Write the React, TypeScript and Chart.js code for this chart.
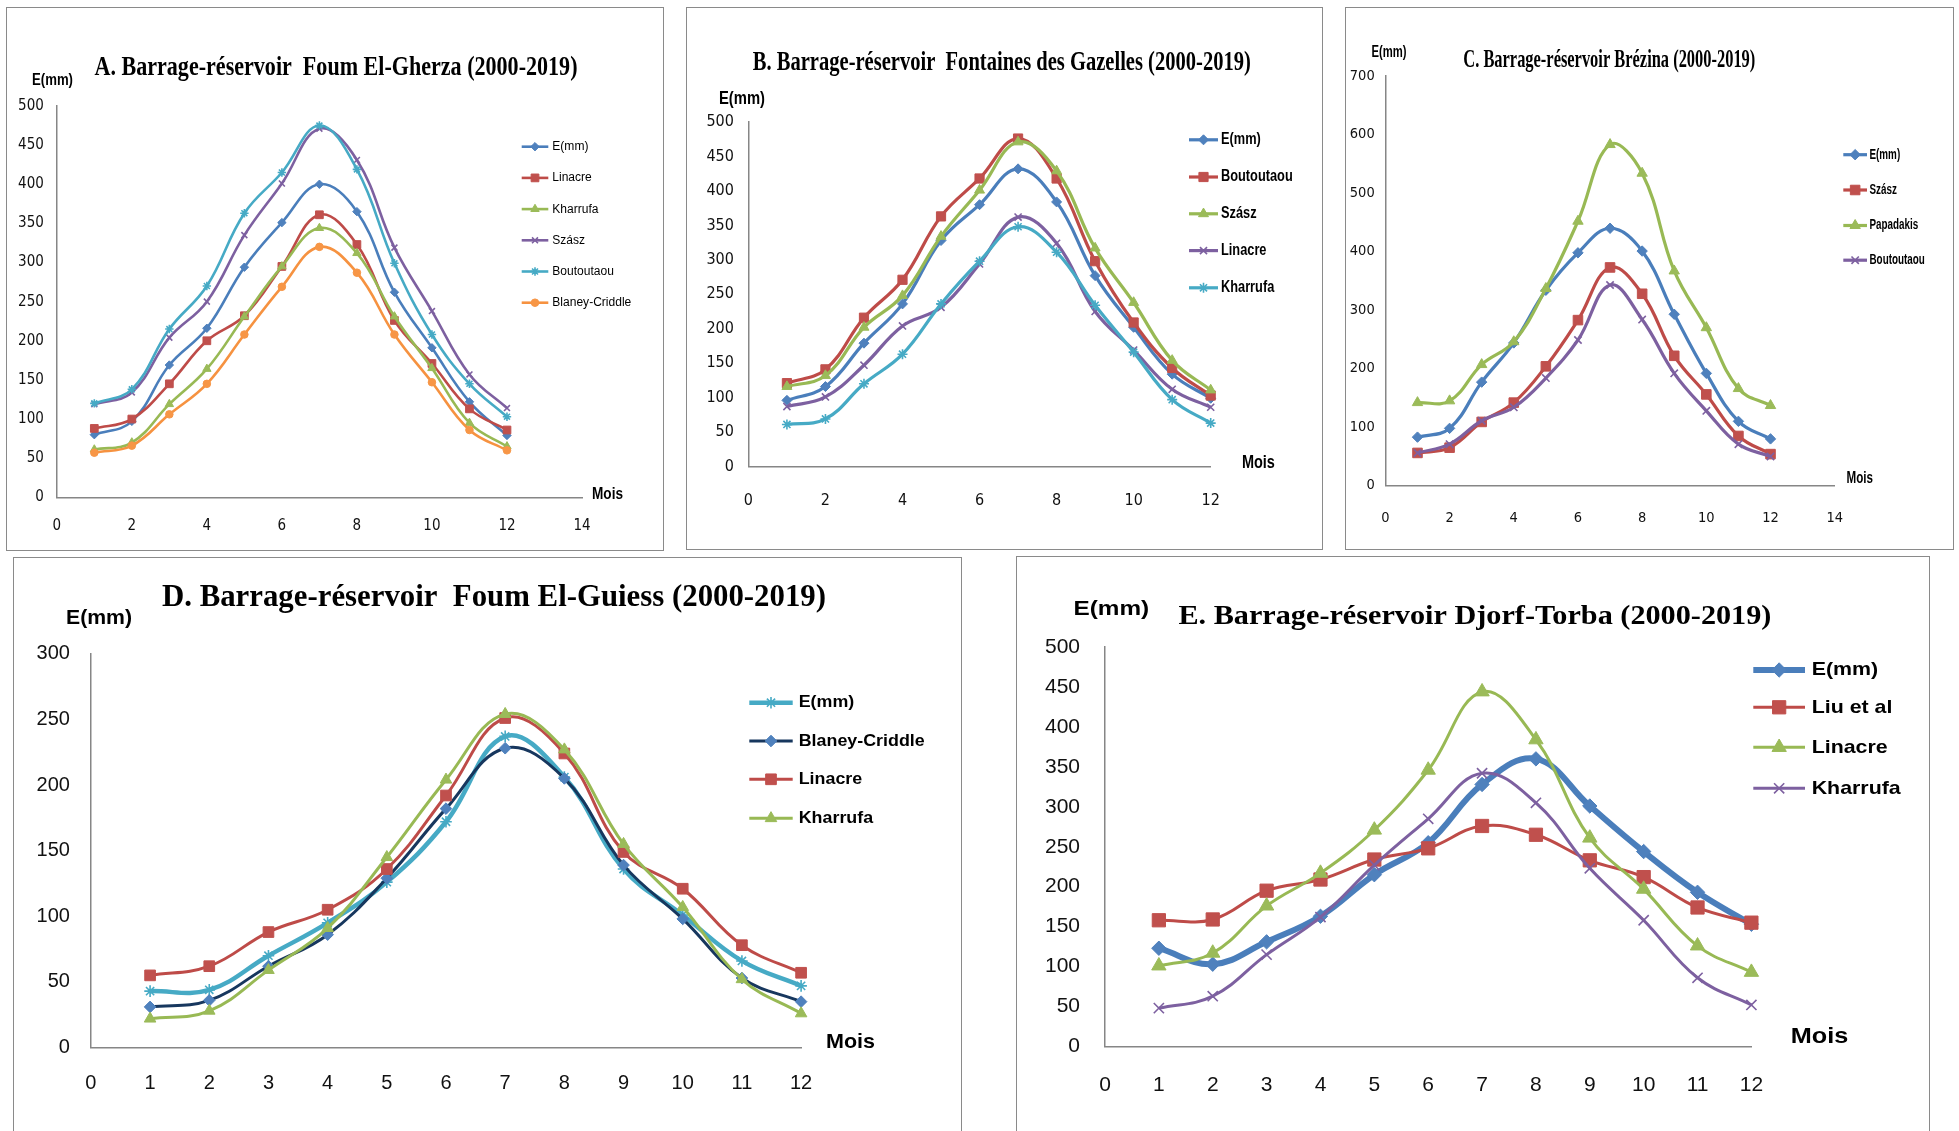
import React, { useEffect, useRef } from "react";
import { Chart, registerables } from "chart.js";
import { drawPoint } from "chart.js/helpers";

Chart.register(...registerables);

// ---------------- DATA ----------------
const months = [1, 2, 3, 4, 5, 6, 7, 8, 9, 10, 11, 12];

// A. Foum El-Gherza
const aEmm = [80, 97, 169, 216, 294, 351, 400, 365, 262, 191, 122, 79];
const aLinacre = [88, 100, 145, 200, 232, 295, 361, 323, 226, 171, 113, 86];
const aKharrufa = [61, 70, 119, 164, 231, 295, 344, 312, 231, 165, 95, 65];
const aSzasz = [119, 134, 204, 250, 335, 401, 471, 431, 319, 238, 157, 114];
const aBoutoutaou = [120, 138, 215, 270, 363, 415, 475, 419, 299, 208, 145, 103];
const aBlaney = [57, 66, 106, 145, 208, 269, 320, 287, 208, 147, 86, 60];

// B. Fontaines des Gazelles
const bEmm = [96, 116, 179, 236, 328, 380, 432, 384, 277, 202, 134, 99];
const bBoutoutaou = [121, 141, 216, 271, 363, 418, 476, 418, 298, 209, 143, 103];
const bSzasz = [116, 132, 202, 248, 334, 401, 471, 429, 317, 238, 154, 111];
const bLinacre = [87, 101, 147, 204, 231, 294, 362, 324, 225, 169, 112, 86];
const bKharrufa = [61, 69, 120, 163, 236, 298, 348, 311, 234, 166, 97, 63];

// C. Brézina
const cEmm = [83, 98, 177, 244, 334, 398, 440, 401, 293, 192, 110, 80];
const cSzasz = [56, 65, 109, 142, 204, 283, 373, 328, 222, 156, 85, 54];
const cPapadakis = [142, 145, 207, 246, 337, 452, 583, 534, 367, 270, 166, 137];
const cBoutoutaou = [56, 71, 111, 134, 184, 249, 343, 284, 192, 128, 71, 50];

// D. Foum El-Guiess
const dEmm = [43, 44, 70, 95, 126, 172, 237, 206, 136, 101, 66, 47];
const dBlaney = [31, 36, 62, 86, 129, 182, 228, 205, 139, 98, 53, 35];
const dLinacre = [55, 62, 88, 105, 136, 192, 251, 224, 149, 121, 78, 57];
const dKharrufa = [22, 28, 59, 91, 145, 204, 254, 227, 155, 107, 52, 26];

// E. Djorf-Torba
const eEmm = [123, 103, 131, 163, 215, 255, 328, 360, 301, 244, 193, 153];
const eLiu = [158, 159, 195, 209, 234, 248, 276, 265, 233, 212, 174, 155];
const eLinacre = [101, 117, 176, 217, 271, 346, 444, 384, 261, 197, 126, 93];
const eKharrufa = [48, 63, 115, 162, 227, 285, 342, 305, 223, 158, 86, 52];

// Axis ranges
const aAxis = { xMax: 14, xStep: 2, yMax: 500, yStep: 50 };
const bAxis = { xMax: 12, xStep: 2, yMax: 500, yStep: 50 };
const cAxis = { xMax: 14, xStep: 2, yMax: 700, yStep: 100 };
const dAxis = { xMax: 12, xStep: 1, yMax: 300, yStep: 50 };
const eAxis = { xMax: 12, xStep: 1, yMax: 500, yStep: 50 };

const titleA = "A. Barrage-réservoir  Foum El-Gherza (2000-2019)";
const titleB = "B. Barrage-réservoir  Fontaines des Gazelles (2000-2019)";
const titleC = "C. Barrage-réservoir Brézina (2000-2019)";
const titleD = "D. Barrage-réservoir  Foum El-Guiess (2000-2019)";
const titleE = "E. Barrage-réservoir Djorf-Torba (2000-2019)";
const yAxisLabel = "E(mm)";
const xAxisLabel = "Mois";

// ---------------- STYLES ----------------
const COL = {
  blue: "#4A7EBB", blueM: "#4F81BD",
  red: "#BE4B48", redM: "#C0504D",
  green: "#98B954", greenM: "#9BBB59",
  purple: "#7D60A0", purpleM: "#8064A2",
  cyan: "#46AAC5", cyanM: "#4BACC6",
  orange: "#F69240", orangeM: "#F79646",
  navy: "#17375E",
};

const NARROW = '"Liberation Sans Narrow", "DejaVu Sans Condensed", "Liberation Sans", Arial, sans-serif';
const SANS = '"Liberation Sans", Arial, sans-serif';
const SERIF = '"Liberation Serif", "Times New Roman", serif';

type PStyle = "rect" | "rectRot" | "triangle" | "crossRot" | "star" | "circle";
const styleScale: Record<PStyle, number> = { rect: 1.3, rectRot: 1.0, triangle: 1.15, crossRot: 1.0, star: 1.0, circle: 0.9 };

interface SeriesSpec { label: string; data: number[]; color: string; marker: string; style: PStyle; width?: number; }
interface TextSpec { cx: number; cy: number; w: number; size: number; }
interface PanelSpec {
  x: number; y: number; w: number; h: number;
  area: { l: number; t: number; r: number; b: number };
  axis: { xMax: number; xStep: number; yMax: number; yStep: number };
  tickFamily: string; tickSize: number; xPad: number; yPad: number;
  title: string; titleSpec: TextSpec; yLab: TextSpec; mois: TextSpec;
  legend: { x1: number; x2: number; tx: number; ys: number[]; size: number; bold: boolean; ref: string; refW: number };
  lineWidth: number; markerBase: number;
  series: SeriesSpec[];
}

const panels: PanelSpec[] = [
  {
    x: 6, y: 7, w: 658, h: 544,
    area: { l: 50.8, t: 99, r: 576, b: 490.3 },
    axis: aAxis, tickFamily: NARROW, tickSize: 15, xPad: 19.5, yPad: 13,
    title: titleA, titleSpec: { cx: 330, cy: 61, w: 483, size: 27 },
    yLab: { cx: 46.5, cy: 74, w: 41, size: 16 },
    mois: { cx: 601.5, cy: 487.5, w: 31, size: 17 },
    legend: { x1: 515.7, x2: 542.3, tx: 546.3, ys: [139.7, 170.9, 202.1, 233.3, 264.5, 295.7], size: 12.5, bold: false, ref: "Blaney-Criddle", refW: 79 },
    lineWidth: 2.6, markerBase: 4.2,
    series: [
      { label: "E(mm)", data: aEmm, color: COL.blue, marker: COL.blueM, style: "rectRot" },
      { label: "Linacre", data: aLinacre, color: COL.red, marker: COL.redM, style: "rect" },
      { label: "Kharrufa", data: aKharrufa, color: COL.green, marker: COL.greenM, style: "triangle" },
      { label: "Szász", data: aSzasz, color: COL.purple, marker: COL.purpleM, style: "crossRot" },
      { label: "Boutoutaou", data: aBoutoutaou, color: COL.cyan, marker: COL.cyanM, style: "star" },
      { label: "Blaney-Criddle", data: aBlaney, color: COL.orange, marker: COL.orangeM, style: "circle" },
    ],
  },
  {
    x: 686, y: 7, w: 637, h: 543,
    area: { l: 62.4, t: 115, r: 524.7, b: 459.5 },
    axis: bAxis, tickFamily: NARROW, tickSize: 16, xPad: 25, yPad: 14.5,
    title: titleB, titleSpec: { cx: 315.8, cy: 56, w: 498, size: 27 },
    yLab: { cx: 56, cy: 91.4, w: 46, size: 19 },
    mois: { cx: 572.4, cy: 456, w: 33, size: 19 },
    legend: { x1: 503, x2: 532, tx: 535, ys: [132.8, 170, 206.8, 243.6, 280.8], size: 16, bold: true, ref: "Boutoutaou", refW: 71.7 },
    lineWidth: 3.2, markerBase: 5,
    series: [
      { label: "E(mm)", data: bEmm, color: COL.blue, marker: COL.blueM, style: "rectRot" },
      { label: "Boutoutaou", data: bBoutoutaou, color: COL.red, marker: COL.redM, style: "rect" },
      { label: "Szász", data: bSzasz, color: COL.green, marker: COL.greenM, style: "triangle" },
      { label: "Linacre", data: bLinacre, color: COL.purple, marker: COL.purpleM, style: "crossRot" },
      { label: "Kharrufa", data: bKharrufa, color: COL.cyan, marker: COL.cyanM, style: "star" },
    ],
  },
  {
    x: 1345, y: 7, w: 609, h: 543,
    area: { l: 40.4, t: 69.1, r: 489.7, b: 478.7 },
    axis: cAxis, tickFamily: NARROW, tickSize: 14.5, xPad: 24, yPad: 10.7,
    title: titleC, titleSpec: { cx: 264.3, cy: 54, w: 292, size: 25 },
    yLab: { cx: 44, cy: 45.4, w: 35, size: 17 },
    mois: { cx: 514.8, cy: 471.6, w: 26.5, size: 17 },
    legend: { x1: 498.3, x2: 522, tx: 524.5, ys: [147.7, 183, 218.5, 253.2], size: 14, bold: true, ref: "Boutoutaou", refW: 55.3 },
    lineWidth: 3.2, markerBase: 5.2,
    series: [
      { label: "E(mm)", data: cEmm, color: COL.blue, marker: COL.blueM, style: "rectRot" },
      { label: "Szász", data: cSzasz, color: COL.red, marker: COL.redM, style: "rect" },
      { label: "Papadakis", data: cPapadakis, color: COL.green, marker: COL.greenM, style: "triangle" },
      { label: "Boutoutaou", data: cBoutoutaou, color: COL.purple, marker: COL.purpleM, style: "crossRot" },
    ],
  },
  {
    x: 13, y: 557, w: 949, h: 600,
    area: { l: 77.9, t: 96.7, r: 788.1, b: 490.6 },
    axis: dAxis, tickFamily: SANS, tickSize: 20, xPad: 24, yPad: 21,
    title: titleD, titleSpec: { cx: 481, cy: 40.5, w: 664, size: 31 },
    yLab: { cx: 86, cy: 61.5, w: 66, size: 20 },
    mois: { cx: 837.5, cy: 485, w: 49, size: 21 },
    legend: { x1: 736.3, x2: 779.7, tx: 785.7, ys: [145.7, 184, 222.3, 261.3], size: 17, bold: true, ref: "Blaney-Criddle", refW: 126 },
    lineWidth: 3, markerBase: 5.8,
    series: [
      { label: "E(mm)", data: dEmm, color: COL.cyan, marker: COL.cyanM, style: "star", width: 4.5 },
      { label: "Blaney-Criddle", data: dBlaney, color: COL.navy, marker: COL.blueM, style: "rectRot" },
      { label: "Linacre", data: dLinacre, color: COL.red, marker: COL.redM, style: "rect" },
      { label: "Kharrufa", data: dKharrufa, color: COL.green, marker: COL.greenM, style: "triangle" },
    ],
  },
  {
    x: 1016, y: 556, w: 914, h: 600,
    area: { l: 89, t: 91, r: 735.4, b: 490.5 },
    axis: eAxis, tickFamily: SANS, tickSize: 21, xPad: 26, yPad: 25,
    title: titleE, titleSpec: { cx: 458.9, cy: 61, w: 593, size: 28 },
    yLab: { cx: 95.3, cy: 53.3, w: 75.7, size: 21 },
    mois: { cx: 803.5, cy: 481.2, w: 57.5, size: 22 },
    legend: { x1: 737.3, x2: 789, tx: 795.7, ys: [114, 151.3, 191.3, 232.3], size: 19, bold: true, ref: "Kharrufa", refW: 89 },
    lineWidth: 3, markerBase: 7.2,
    series: [
      { label: "E(mm)", data: eEmm, color: COL.blue, marker: COL.blueM, style: "rectRot", width: 6 },
      { label: "Liu et al", data: eLiu, color: COL.red, marker: COL.redM, style: "rect" },
      { label: "Linacre", data: eLinacre, color: COL.green, marker: COL.greenM, style: "triangle" },
      { label: "Kharrufa", data: eKharrufa, color: COL.purple, marker: COL.purpleM, style: "crossRot" },
    ],
  },
];

function isCross(s: PStyle) { return s === "crossRot" || s === "star"; }

function drawFit(ctx: CanvasRenderingContext2D, text: string, t: TextSpec, font: string) {
  ctx.save();
  ctx.font = font;
  ctx.fillStyle = "#000";
  ctx.textAlign = "center";
  ctx.textBaseline = "middle";
  const m = ctx.measureText(text).width || 1;
  ctx.translate(t.cx, t.cy);
  ctx.scale(t.w / m, 1);
  ctx.fillText(text, 0, 0);
  ctx.restore();
}

function Panel({ p }: { p: PanelSpec }) {
  const ref = useRef<HTMLCanvasElement>(null);
  useEffect(() => {
    const canvas = ref.current!;
    const n = p.series.length;
    const datasets = p.series.map((s, i) => {
      const r = p.markerBase * styleScale[s.style];
      return {
        label: s.label,
        data: months.map((m, k) => ({ x: m, y: s.data[k] })),
        borderColor: s.color,
        backgroundColor: s.marker,
        borderWidth: s.width ?? p.lineWidth,
        pointStyle: s.style,
        pointRadius: r,
        pointBorderColor: isCross(s.style) ? s.color : s.marker,
        pointBackgroundColor: s.marker,
        pointBorderWidth: isCross(s.style) ? 1.6 : 1,
        tension: 0.4,
        clip: false as any,
        order: n - 1 - i,
      };
    });

    const annot = {
      id: "annot",
      beforeDraw(chart: any) {
        const ctx = chart.ctx as CanvasRenderingContext2D;
        ctx.save();
        ctx.fillStyle = "#fff";
        ctx.fillRect(0, 0, p.w, p.h);
        ctx.strokeStyle = "#8a8a8a";
        ctx.lineWidth = 1;
        ctx.strokeRect(0.5, 0.5, p.w - 1, p.h - 1);
        ctx.restore();
      },
      afterDraw(chart: any) {
        const ctx = chart.ctx as CanvasRenderingContext2D;
        drawFit(ctx, p.title, p.titleSpec, `bold ${p.titleSpec.size}px ${SERIF}`);
        drawFit(ctx, yAxisLabel, p.yLab, `bold ${p.yLab.size}px ${SANS}`);
        drawFit(ctx, xAxisLabel, p.mois, `bold ${p.mois.size}px ${SANS}`);
        // legend
        const L = p.legend;
        const lfont = `${L.bold ? "bold " : ""}${L.size}px ${SANS}`;
        ctx.save();
        ctx.font = lfont;
        const sx = L.refW / (ctx.measureText(L.ref).width || 1);
        ctx.restore();
        p.series.forEach((s, i) => {
          const y = L.ys[i];
          ctx.save();
          ctx.strokeStyle = s.color;
          ctx.lineWidth = s.width ?? p.lineWidth;
          ctx.beginPath();
          ctx.moveTo(L.x1, y);
          ctx.lineTo(L.x2, y);
          ctx.stroke();
          const cross = isCross(s.style);
          ctx.fillStyle = s.marker;
          ctx.strokeStyle = cross ? s.color : s.marker;
          ctx.lineWidth = cross ? 1.6 : 1;
          drawPoint(ctx, { pointStyle: s.style, rotation: 0, radius: p.markerBase * styleScale[s.style], borderWidth: ctx.lineWidth } as any, (L.x1 + L.x2) / 2, y);
          ctx.restore();
          ctx.save();
          ctx.font = lfont;
          ctx.fillStyle = "#000";
          ctx.textAlign = "left";
          ctx.textBaseline = "middle";
          ctx.translate(L.tx, y);
          ctx.scale(sx, 1);
          ctx.fillText(s.label, 0, 0);
          ctx.restore();
        });
      },
    };

    const tickFont = { family: p.tickFamily, size: p.tickSize };
    const chart = new Chart(canvas, {
      type: "line",
      data: { datasets: datasets as any },
      options: {
        responsive: false,
        animation: false,
        events: [],
        layout: { padding: { left: 0, top: p.area.t, right: p.w - p.area.r, bottom: 0 } },
        plugins: { legend: { display: false }, tooltip: { enabled: false }, title: { display: false } },
        scales: {
          x: {
            type: "linear",
            min: 0,
            max: p.axis.xMax,
            ticks: { stepSize: p.axis.xStep, font: tickFont, color: "#111", padding: p.xPad, autoSkip: false, maxRotation: 0 },
            grid: { display: false, drawTicks: false },
            border: { display: true, color: "#868686", width: 1.5 },
            afterFit: (s: any) => { s.height = p.h - p.area.b; },
          },
          y: {
            type: "linear",
            min: 0,
            max: p.axis.yMax,
            ticks: { stepSize: p.axis.yStep, font: tickFont, color: "#111", padding: p.yPad },
            grid: { display: false, drawTicks: false },
            border: { display: true, color: "#868686", width: 1.5 },
            afterFit: (s: any) => { s.width = p.area.l; },
          },
        },
      },
      plugins: [annot],
    });
    return () => chart.destroy();
  }, [p]);
  return (
    <canvas
      ref={ref}
      width={p.w}
      height={p.h}
      style={{ position: "absolute", left: p.x, top: p.y, width: p.w, height: p.h, display: "block" }}
    />
  );
}

export default function App() {
  return (
    <div style={{ position: "absolute", left: 0, top: 0, width: 1959, height: 1131, overflow: "hidden", background: "#fff" }}>
      {panels.map((p, i) => (
        <Panel key={i} p={p} />
      ))}
    </div>
  );
}
